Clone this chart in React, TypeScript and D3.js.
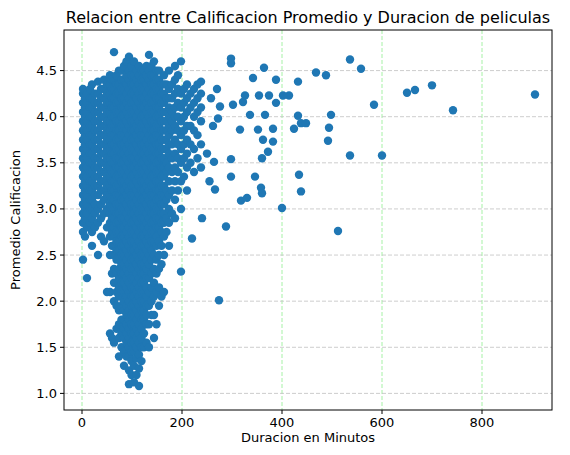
import * as d3 from 'd3';

// dense columns: duration -> list of ratings read from the blob
const denseColumns: [number, string][] = [
  [2, '2.45 2.75 2.85 2.95 3.05 3.15 3.25 3.35 3.45 3.55 3.65 3.75 3.85 3.95 4.05 4.15 4.25 4.3'],
  [6, '2.7 2.9 3.0 3.1 3.2 3.3 3.4 3.5 3.6 3.7 3.8 3.9 4.0 4.1 4.2'],
  [10, '2.25 2.8 2.95 3.05 3.15 3.25 3.35 3.45 3.55 3.65 3.75 3.85 3.95 4.05 4.15 4.25'],
  [16, '2.85 3.0 3.1 3.2 3.3 3.4 3.5 3.6 3.7 3.8 3.9 4.0 4.1 4.2 4.3'],
  [20, '2.6 2.75 2.9 3.0 3.1 3.2 3.3 3.4 3.5 3.6 3.7 3.8 3.9 4.0 4.1 4.2 4.35'],
  [26, '2.8 2.95 3.05 3.15 3.25 3.35 3.45 3.55 3.65 3.75 3.85 3.95 4.05 4.15 4.25'],
  [32, '2.5 2.85 3.0 3.15 3.25 3.35 3.45 3.55 3.65 3.75 3.85 3.95 4.05 4.15 4.25 4.38'],
  [38, '2.7 2.9 3.05 3.2 3.3 3.4 3.5 3.6 3.7 3.8 3.9 4.0 4.1 4.2 4.3'],
  [44, '2.65 2.95 3.1 3.2 3.3 3.4 3.5 3.6 3.7 3.8 3.9 4.0 4.1 4.2 4.3 4.4'],
  [50, '2.1 2.8 3.0 3.15 3.25 3.35 3.45 3.55 3.65 3.75 3.85 3.95 4.05 4.15 4.25 4.35'],
  [56, '1.65 2.1 2.5 2.7 2.85 2.95 3.05 3.15 3.25 3.35 3.45 3.55 3.65 3.75 3.85 3.95 4.05 4.15 4.25 4.35 4.45'],
  [60, '1.6 2.3 2.6 2.75 2.9 3.0 3.1 3.2 3.3 3.4 3.5 3.6 3.7 3.8 3.9 4.0 4.1 4.2 4.3 4.4'],
  [64, '1.55 2.0 2.2 2.35 2.5 2.6 2.7 2.8 2.9 3.0 3.1 3.2 3.3 3.4 3.5 3.6 3.7 3.8 3.9 4.0 4.1 4.2 4.3 4.4 4.7'],
  [69, '1.7 1.95 2.1 2.3 2.45 2.55 2.65 2.75 2.85 2.95 3.05 3.15 3.25 3.35 3.45 3.55 3.65 3.75 3.85 3.95 4.05 4.15 4.25 4.35 4.45'],
  [74, '1.4 1.6 1.75 1.9 2.05 2.15 2.25 2.35 2.45 2.55 2.65 2.75 2.85 2.95 3.05 3.15 3.25 3.35 3.45 3.55 3.65 3.75 3.85 3.95 4.05 4.15 4.25 4.35 4.5'],
  [79, '1.5 1.65 1.8 1.95 2.1 2.2 2.3 2.4 2.5 2.6 2.7 2.8 2.9 3.0 3.1 3.2 3.3 3.4 3.5 3.6 3.7 3.8 3.9 4.0 4.1 4.2 4.3 4.4 4.5'],
  [84, '1.3 1.45 1.6 1.7 1.8 1.9 2.0 2.1 2.2 2.3 2.4 2.5 2.6 2.7 2.8 2.9 3.0 3.1 3.2 3.3 3.4 3.5 3.6 3.7 3.8 3.9 4.0 4.1 4.2 4.3 4.4 4.55'],
  [89, '1.4 1.55 1.65 1.75 1.85 1.95 2.05 2.15 2.25 2.35 2.45 2.55 2.65 2.75 2.85 2.95 3.05 3.15 3.25 3.35 3.45 3.55 3.65 3.75 3.85 3.95 4.05 4.15 4.25 4.35 4.45 4.6'],
  [94, '1.1 1.25 1.4 1.5 1.6 1.7 1.8 1.9 2.0 2.1 2.2 2.3 2.4 2.5 2.6 2.7 2.8 2.9 3.0 3.1 3.2 3.3 3.4 3.5 3.6 3.7 3.8 3.9 4.0 4.1 4.2 4.3 4.4 4.5 4.65'],
  [99, '1.2 1.35 1.45 1.55 1.65 1.75 1.85 1.95 2.05 2.15 2.25 2.35 2.45 2.55 2.65 2.75 2.85 2.95 3.05 3.15 3.25 3.35 3.45 3.55 3.65 3.75 3.85 3.95 4.05 4.15 4.25 4.35 4.45 4.55'],
  [104, '1.12 1.3 1.45 1.55 1.65 1.75 1.85 1.95 2.05 2.15 2.25 2.35 2.45 2.55 2.65 2.75 2.85 2.95 3.05 3.15 3.25 3.35 3.45 3.55 3.65 3.75 3.85 3.95 4.05 4.15 4.25 4.35 4.45 4.6'],
  [109, '1.2 1.38 1.5 1.6 1.7 1.8 1.9 2.0 2.1 2.2 2.3 2.4 2.5 2.6 2.7 2.8 2.9 3.0 3.1 3.2 3.3 3.4 3.5 3.6 3.7 3.8 3.9 4.0 4.1 4.2 4.3 4.4 4.5'],
  [114, '1.08 1.27 1.42 1.55 1.65 1.75 1.85 1.95 2.05 2.15 2.25 2.35 2.45 2.55 2.65 2.75 2.85 2.95 3.05 3.15 3.25 3.35 3.45 3.55 3.65 3.75 3.85 3.95 4.05 4.15 4.25 4.35 4.45 4.55'],
  [119, '1.35 1.5 1.6 1.7 1.8 1.9 2.0 2.1 2.2 2.3 2.4 2.5 2.6 2.7 2.8 2.9 3.0 3.1 3.2 3.3 3.4 3.5 3.6 3.7 3.8 3.9 4.0 4.1 4.2 4.3 4.4 4.5'],
  [124, '1.5 1.65 1.8 1.9 2.0 2.1 2.2 2.3 2.4 2.5 2.6 2.7 2.8 2.9 3.0 3.1 3.2 3.3 3.4 3.5 3.6 3.7 3.8 3.9 4.0 4.1 4.2 4.3 4.4 4.5'],
  [129, '1.55 1.75 1.85 1.95 2.05 2.15 2.25 2.35 2.45 2.55 2.65 2.75 2.85 2.95 3.05 3.15 3.25 3.35 3.45 3.55 3.65 3.75 3.85 3.95 4.05 4.15 4.25 4.35 4.45 4.55'],
  [134, '1.5 1.75 1.95 2.1 2.25 2.4 2.5 2.6 2.7 2.8 2.9 3.0 3.1 3.2 3.3 3.4 3.5 3.6 3.7 3.8 3.9 4.0 4.1 4.2 4.3 4.4 4.5 4.67'],
  [139, '1.85 2.0 2.15 2.3 2.45 2.55 2.65 2.75 2.85 2.95 3.05 3.15 3.25 3.35 3.45 3.55 3.65 3.75 3.85 3.95 4.05 4.15 4.25 4.35 4.45 4.55'],
  [144, '1.6 1.85 2.05 2.2 2.35 2.5 2.65 2.75 2.85 2.95 3.05 3.15 3.25 3.35 3.45 3.55 3.65 3.75 3.85 3.95 4.05 4.15 4.25 4.35 4.45 4.6'],
  [149, '1.75 2.1 2.3 2.45 2.6 2.7 2.8 2.9 3.0 3.1 3.2 3.3 3.4 3.5 3.6 3.7 3.8 3.9 4.0 4.1 4.2 4.3 4.4 4.5'],
  [154, '1.95 2.15 2.35 2.5 2.65 2.8 2.9 3.0 3.1 3.2 3.3 3.4 3.5 3.6 3.7 3.8 3.9 4.0 4.1 4.2 4.3 4.4 4.5'],
  [159, '2.05 2.4 2.6 2.75 2.85 2.95 3.05 3.15 3.25 3.35 3.45 3.55 3.65 3.75 3.85 3.95 4.05 4.15 4.25 4.35'],
  [164, '2.1 2.5 2.7 2.85 2.95 3.05 3.15 3.25 3.35 3.45 3.55 3.65 3.75 3.85 3.95 4.05 4.15 4.25 4.35 4.45'],
  [169, '2.75 2.9 3.1 3.2 3.4 3.5 3.65 3.75 3.85 3.95 4.05 4.2 4.35'],
  [174, '2.6 2.85 3.0 3.15 3.3 3.45 3.6 3.7 3.8 3.9 4.0 4.1 4.2 4.3 4.5'],
  [180, '2.95 3.2 3.4 3.55 3.7 3.85 3.95 4.05 4.2 4.35'],
  [186, '2.9 3.1 3.3 3.45 3.6 3.75 3.9 4.0 4.1 4.25 4.4 4.55'],
  [192, '3.2 3.4 3.55 3.7 3.85 4.0 4.15 4.3 4.45'],
  [198, '3.0 3.3 3.5 3.65 3.8 3.95 4.1 4.25 4.6'],
  [204, '3.35 3.55 3.7 3.85 4.0 4.15 4.3'],
  [210, '3.2 3.45 3.6 3.75 3.9 4.05 4.2 4.35'],
  [217, '3.5 3.7 3.9 4.1 4.25'],
  [224, '3.4 3.65 3.85 4.0 4.15 4.3'],
  [231, '3.55 3.8 4.05 4.2 4.35'],
  [238, '3.45 3.7 3.95 4.1 4.25 4.38'],
];

// sparse outliers [duration, rating]
const sparse: [number, number][] = [
  [298, 4.63], [298, 4.58], [364, 4.53], [342, 4.42], [388, 4.4], [414, 4.23], [432, 4.38],
  [468, 4.48], [488, 4.45], [536, 4.62], [558, 4.52], [584, 4.13], [650, 4.26], [666, 4.29],
  [700, 4.34], [742, 4.07], [906, 4.24], [498, 4.02], [494, 3.88], [492, 3.74], [536, 3.58],
  [600, 3.58], [512, 2.76], [434, 3.37], [438, 3.19], [400, 3.01], [288, 2.81], [274, 2.01],
  [220, 2.68], [240, 2.9], [198, 2.32], [326, 4.23], [322, 4.16], [372, 3.62], [360, 3.55],
  [358, 3.23], [360, 3.17], [346, 3.35], [318, 3.09], [330, 3.12], [298, 3.35], [298, 3.54],
  [316, 3.86], [352, 3.86], [362, 3.75], [382, 3.73], [382, 3.87], [424, 3.87], [438, 3.93],
  [448, 3.93], [432, 4.01], [402, 4.23], [374, 4.23], [354, 4.23], [388, 4.15], [302, 4.13],
  [276, 4.11], [272, 3.98], [266, 3.21], [264, 3.51], [336, 4.02], [366, 4.02], [258, 4.2],
  [262, 3.9], [250, 3.6], [255, 3.3], [270, 4.3],
];

const xTicks = [0, 200, 400, 600, 800];
const yTicks = [1.0, 1.5, 2.0, 2.5, 3.0, 3.5, 4.0, 4.5];

const points: [number, number][] = [
  ...denseColumns.flatMap(([x, s]) => s.split(' ').map((v) => [x, +v] as [number, number])),
  ...sparse,
];

export default function App() {
  const W = 570, H = 455;
  const left = 64, right = 552, top = 30, bottom = 410;
  const x = d3.scaleLinear().domain([-36, 940]).range([left, right]);
  const y = d3.scaleLinear().domain([0.82, 4.94]).range([bottom, top]);
  const font = 'DejaVu Sans, sans-serif';
  return (
    <svg width={W} height={H} style={{ position: 'absolute', left: 0, top: 0, background: '#fff' }}>
      {xTicks.map((t) => (
        <line key={'gx' + t} x1={x(t)} x2={x(t)} y1={top} y2={bottom} stroke="#90ee90" strokeDasharray="4,2" strokeWidth={0.8} />
      ))}
      {yTicks.map((t) => (
        <line key={'gy' + t} x1={left} x2={right} y1={y(t)} y2={y(t)} stroke="#c0c0c0" strokeDasharray="4,2" strokeWidth={0.8} />
      ))}
      {points.map(([a, b], i) => (
        <circle key={i} cx={x(a)} cy={y(b)} r={4.2} fill="#1f77b4" />
      ))}
      <rect x={left} y={top} width={right - left} height={bottom - top} fill="none" stroke="#000" strokeWidth={1} />
      {xTicks.map((t) => (
        <g key={'tx' + t}>
          <line x1={x(t)} x2={x(t)} y1={bottom} y2={bottom + 4} stroke="#000" />
          <text x={x(t)} y={bottom + 17} textAnchor="middle" fontSize={13} fontFamily={font}>{t}</text>
        </g>
      ))}
      {yTicks.map((t) => (
        <g key={'ty' + t}>
          <line x1={left - 4} x2={left} y1={y(t)} y2={y(t)} stroke="#000" />
          <text x={left - 7} y={y(t) + 4.5} textAnchor="end" fontSize={13} fontFamily={font}>{t.toFixed(1)}</text>
        </g>
      ))}
      <text x={(left + right) / 2} y={23} textAnchor="middle" fontSize={16} fontFamily={font}>
        Relacion entre Calificacion Promedio y Duracion de peliculas
      </text>
      <text x={(left + right) / 2} y={442} textAnchor="middle" fontSize={13} fontFamily={font}>Duracion en Minutos</text>
      <text transform={`translate(20,${(top + bottom) / 2}) rotate(-90)`} textAnchor="middle" fontSize={13} fontFamily={font}>
        Promedio Calificacion
      </text>
    </svg>
  );
}
